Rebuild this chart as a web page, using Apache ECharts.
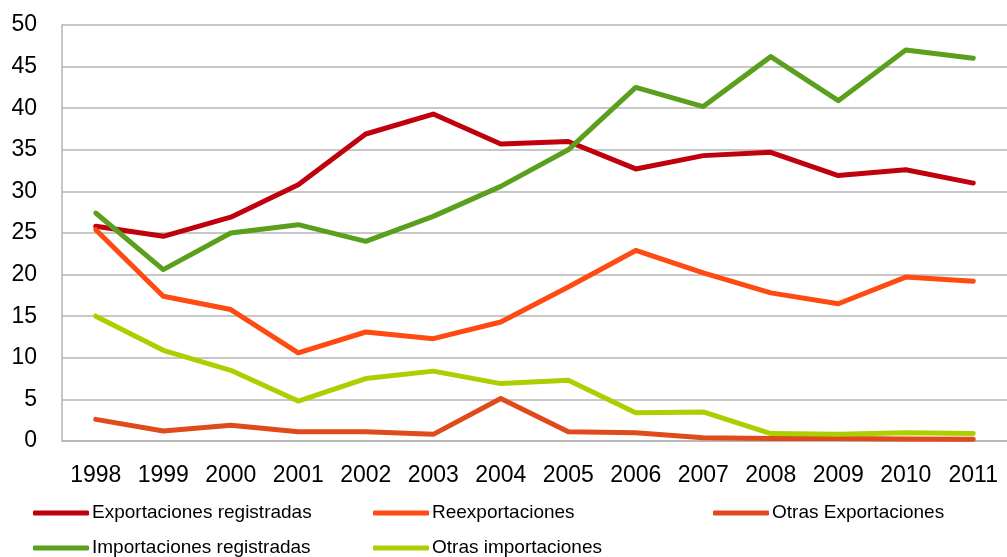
<!DOCTYPE html>
<html>
<head>
<meta charset="utf-8">
<script src="https://cdn.jsdelivr.net/npm/echarts@6/dist/echarts.min.js"></script>
<style>
  html, body { margin: 0; padding: 0; background: #fff; }
  #chart { width: 1007px; height: 557px; }
</style>
</head>
<body>
<div id="chart"></div>
<script>
// years on the category axis
const years = ['1998', '1999', '2000', '2001', '2002', '2003', '2004', '2005', '2006', '2007', '2008', '2009', '2010', '2011']

// values
const exportacionesRegistradas = [25.8, 24.6, 26.9, 30.8, 36.9, 39.3, 35.7, 36.0, 32.7, 34.3, 34.7, 31.9, 32.6, 31.0]
const reexportaciones = [25.4, 17.4, 15.8, 10.6, 13.1, 12.3, 14.3, 18.5, 22.9, 20.2, 17.8, 16.5, 19.7, 19.2]
const otrasExportaciones = [2.6, 1.2, 1.9, 1.1, 1.1, 0.8, 5.1, 1.1, 1.0, 0.4, 0.3, 0.3, 0.25, 0.2]
const importacionesRegistradas = [27.4, 20.6, 25.0, 26.0, 24.0, 27.0, 30.6, 35.0, 42.5, 40.2, 46.2, 40.9, 47.0, 46.0]
const otrasImportaciones = [15.0, 10.9, 8.5, 4.8, 7.5, 8.4, 6.9, 7.3, 3.4, 3.5, 0.9, 0.8, 1.0, 0.9]

const seriesNames = ['Exportaciones registradas', 'Reexportaciones', 'Otras Exportaciones', 'Importaciones registradas', 'Otras importaciones']
const seriesColors = ['#C0000D', '#FF4A12', '#DF4B1B', '#5B9F1F', '#ABCF00']
const seriesData = [exportacionesRegistradas, reexportaciones, otrasExportaciones, importacionesRegistradas, otrasImportaciones]

const font = 'Liberation Sans'
const gridColor = '#B4B4B4'

// legend slots: [left, top] for each series, two rows of three columns
const legendSlots = [[33, 503], [373, 503], [713, 503], [33, 538], [373, 538]]

function makeLegend(name, i) {
  return {
    left: legendSlots[i][0],
    top: legendSlots[i][1],
    data: [name],
    icon: 'roundRect',
    itemWidth: 56,
    itemHeight: 5,
    textStyle: { fontFamily: font, fontSize: 19, color: '#000', lineHeight: 20, padding: [0, 0, 0, -2] },
    padding: 0
  }
}

const chart = echarts.init(document.getElementById('chart'))

chart.setOption({
  animation: false,
  backgroundColor: '#fff',
  grid: { left: 62, top: 25, right: -5, bottom: 116 },
  legend: seriesNames.map(makeLegend),
  xAxis: {
    type: 'category',
    data: years,
    boundaryGap: true,
    axisLine: { lineStyle: { color: gridColor, width: 1.5 } },
    axisTick: { show: false },
    axisLabel: { fontFamily: font, fontSize: 23, color: '#000', margin: 23, interval: 0 }
  },
  yAxis: {
    type: 'value',
    min: 0,
    max: 50,
    interval: 5,
    axisLine: { show: true, lineStyle: { color: gridColor, width: 1.5 } },
    axisTick: { show: false },
    splitLine: { lineStyle: { color: gridColor, width: 1.5 } },
    axisLabel: { fontFamily: font, fontSize: 23, color: '#000', margin: 25 }
  },
  series: seriesNames.map((name, i) => ({
    name: name,
    type: 'line',
    data: seriesData[i],
    symbol: 'none',
    color: seriesColors[i],
    lineStyle: { width: 5, cap: 'round', join: 'round' }
  }))
})
</script>
</body>
</html>
